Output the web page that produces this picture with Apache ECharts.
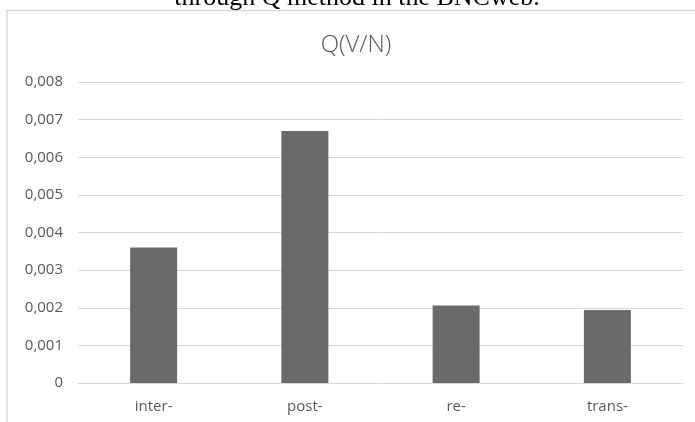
<!DOCTYPE html>
<html>
<head>
<meta charset="utf-8">
<script src="https://cdn.jsdelivr.net/npm/echarts@6/dist/echarts.min.js"></script>
<style>
  html, body { margin: 0; padding: 0; background: #ffffff; }
  #chart { width: 695px; height: 422px; }
</style>
</head>
<body>
<div id="chart"></div>
<script>
// Q(V/N) scores per prefix
const categories = ['inter-', 'post-', 're-', 'trans-'];
const qValues = [0.0036, 0.0067, 0.00206, 0.00194];
const yTicks = [0, 0.001, 0.002, 0.003, 0.004, 0.005, 0.006, 0.007, 0.008];
const yTickLabels = ['0', '0,001', '0,002', '0,003', '0,004', '0,005', '0,006', '0,007', '0,008'];
const chartTitle = 'Q(V/N)';
const captionText = 'through Q method in the BNCweb.';

const textColor = '#595959';
const sansFont = '"Open Sans", "Liberation Sans", sans-serif';

function tickLabel(v) {
  let best = 0;
  for (let i = 1; i < yTicks.length; i++) {
    if (Math.abs(yTicks[i] - v) < Math.abs(yTicks[best] - v)) best = i;
  }
  return yTickLabels[best];
}

const chart = echarts.init(document.getElementById('chart'), null, { renderer: 'canvas' });

chart.setOption({
  backgroundColor: '#ffffff',
  animation: false,
  grid: { left: 78, right: 12, top: 82, bottom: 39 },
  graphic: [
    {
      type: 'rect',
      shape: { x: 7, y: 10.5, width: 720, height: 440 },
      style: { fill: '#ffffff', stroke: '#d9d9d9', lineWidth: 1.5 },
      z: -10
    },
    {
      type: 'text',
      x: 357,
      y: 11,
      style: {
        text: captionText,
        font: '26px "Liberation Serif", "Times New Roman", serif',
        fill: '#000000',
        align: 'center',
        verticalAlign: 'bottom'
      },
      z: -5
    },
    {
      type: 'text',
      x: 356,
      y: 45,
      style: {
        text: chartTitle,
        font: '300 24px ' + sansFont,
        fill: textColor,
        align: 'center',
        verticalAlign: 'middle'
      }
    }
  ],
  xAxis: {
    type: 'category',
    data: categories,
    axisLine: { show: true, lineStyle: { color: '#d9d9d9', width: 1 } },
    axisTick: { show: false },
    axisLabel: { color: textColor, fontSize: 15, fontFamily: sansFont, margin: 16 },
    splitLine: { show: false }
  },
  yAxis: {
    type: 'value',
    min: yTicks[0],
    max: yTicks[yTicks.length - 1],
    interval: yTicks[1] - yTicks[0],
    axisLine: { show: false },
    axisTick: { show: false },
    axisLabel: {
      color: textColor,
      fontSize: 15,
      fontFamily: sansFont,
      margin: 15,
      formatter: tickLabel
    },
    splitLine: { lineStyle: { color: '#d9d9d9', width: 1 } }
  },
  series: [
    {
      type: 'bar',
      data: qValues,
      barWidth: 47,
      itemStyle: { color: '#6a6a6a' }
    }
  ]
});
</script>
</body>
</html>
